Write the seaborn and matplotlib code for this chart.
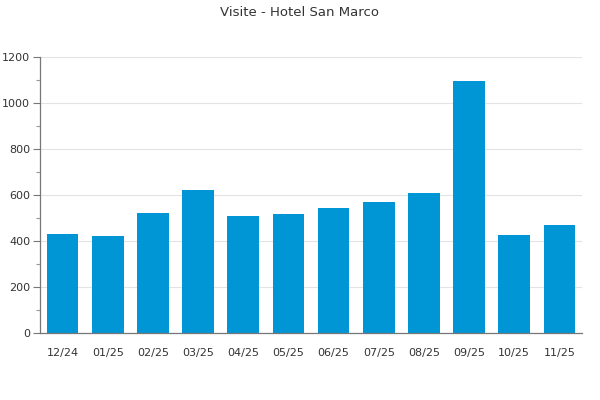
import matplotlib
matplotlib.use("Agg")
import matplotlib.pyplot as plt
from matplotlib.ticker import MultipleLocator
import pandas as pd
import seaborn as sns

months = ["12/24", "01/25", "02/25", "03/25", "04/25", "05/25",
          "06/25", "07/25", "08/25", "09/25", "10/25", "11/25"]
visits = [432, 423, 523, 623, 510, 519, 545, 571, 610, 1097, 427, 471]

sns.set_theme(style="white")
plt.rcParams["font.family"] = ["DejaVu Sans"]

df = pd.DataFrame({"Mese": months, "Visite": visits})

fig = plt.figure(figsize=(6, 4), dpi=100)
ax = fig.add_axes([0.0667, 0.1675, 0.9033, 0.69])
sns.barplot(data=df, x="Mese", y="Visite", color="#0096d6", saturation=1,
            width=0.7, linewidth=0, edgecolor="none", ax=ax, zorder=2)

ax.set_ylim(0, 1200)
ax.set_xlim(-0.5, len(months) - 0.5)
ax.yaxis.set_major_locator(MultipleLocator(200))
ax.yaxis.set_minor_locator(MultipleLocator(100))
ax.grid(axis="y", which="major", color="#e3e3e3", lw=0.8, zorder=0)
ax.set_axisbelow(True)
ax.set_xlabel(""); ax.set_ylabel("")
for s in ["top", "right"]:
    ax.spines[s].set_visible(False)
for s in ["left", "bottom"]:
    ax.spines[s].set_color("#777777")
    ax.spines[s].set_linewidth(0.9)
ax.tick_params(axis="y", which="major", left=True, length=5, width=0.8,
               color="#777777", labelsize=8, labelcolor="#333333", pad=2)
ax.tick_params(axis="y", which="minor", left=True, length=3, width=0.8, color="#999999")
ax.tick_params(axis="x", bottom=False, labelsize=8, labelcolor="#333333", pad=5)

fig.suptitle("Visite - Hotel San Marco", y=0.985, fontsize=9.5, color="#333333")
fig.savefig("out.png", dpi=100)
